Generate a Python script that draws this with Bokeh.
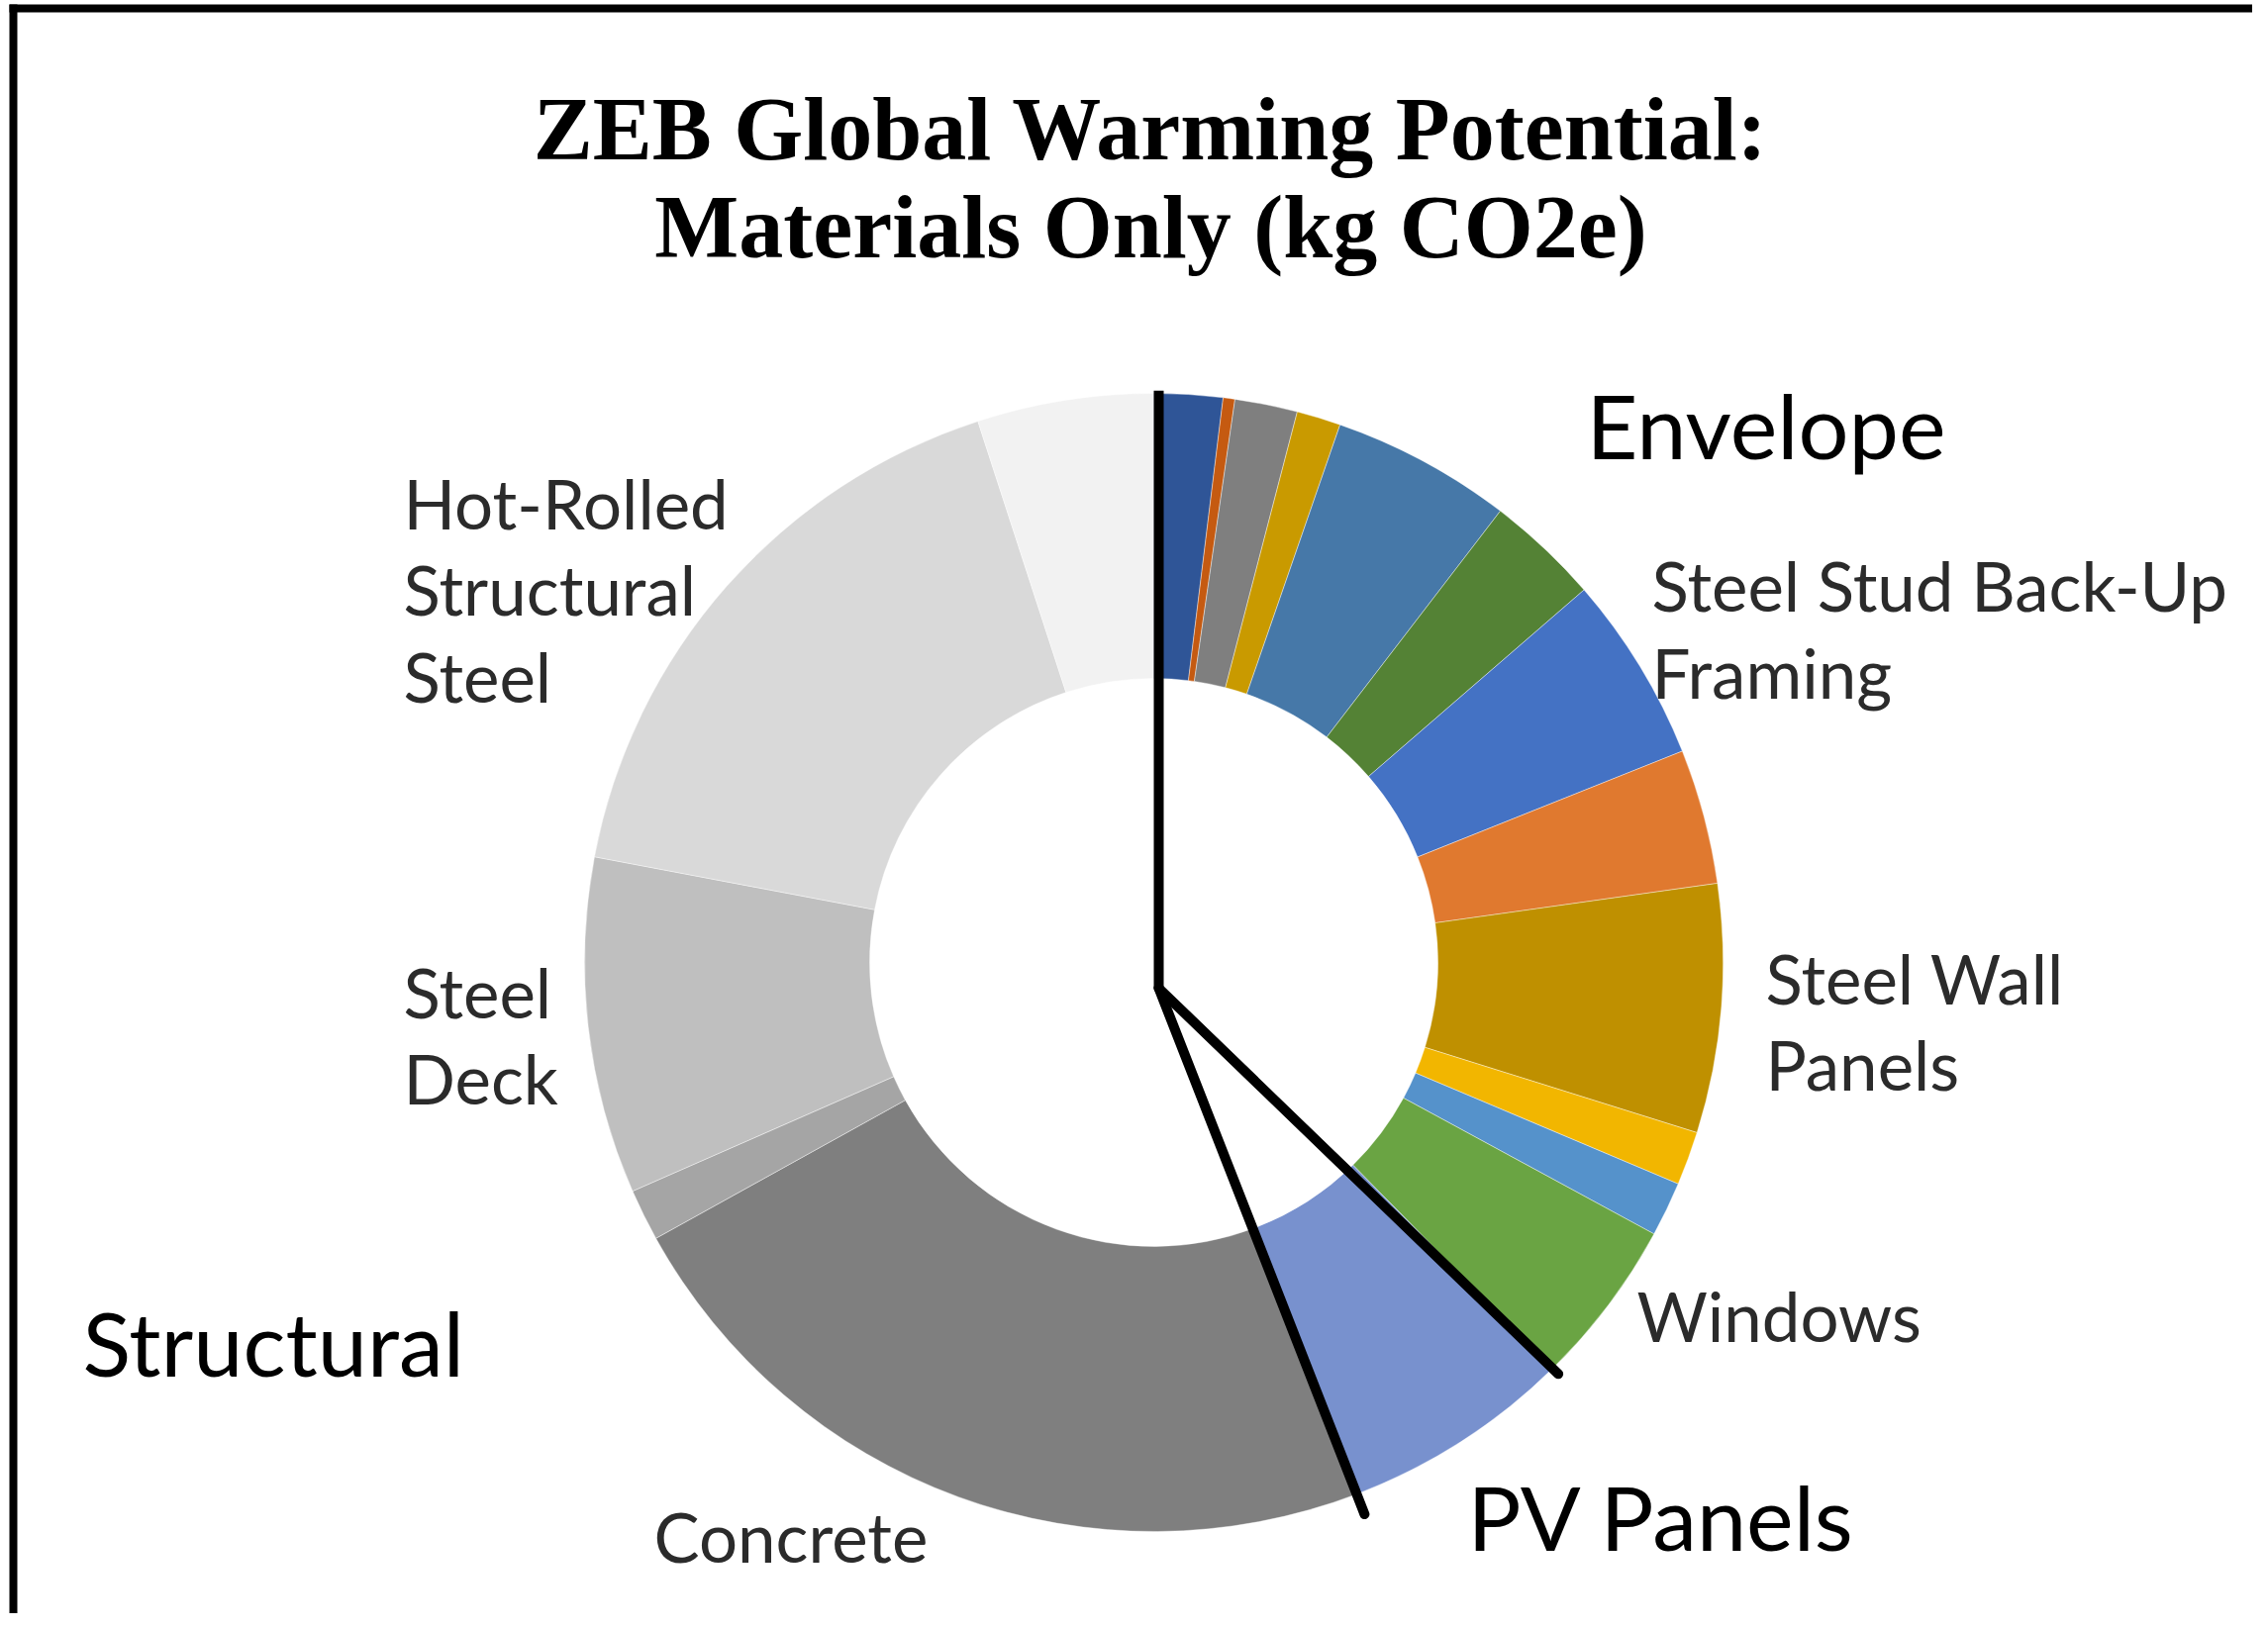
import numpy as np
from bokeh.plotting import figure
from bokeh.models import Range1d, ColumnDataSource
from bokeh.core.properties import value
from bokeh.embed import file_html
from bokeh.resources import INLINE

# ---------------- data (relative shares) ----------------
materials = [
    "Envelope material 1", "Envelope material 2", "Envelope material 3",
    "Envelope material 4", "Envelope material 5", "Envelope material 6",
    "Steel Stud Back-Up Framing", "Envelope material 7", "Steel Wall Panels",
    "Envelope material 8", "Envelope material 9", "Windows",
    "PV Panels",
    "Concrete", "Structural material 1", "Steel Deck",
    "Hot-Rolled Structural Steel", "Structural material 2",
]
kg_co2e = [7.0, 1.2, 6.4, 4.5, 18.4, 11.6,
           19.1, 13.8, 25.4, 5.5, 5.6, 17.0,
           23.6,
           81.9, 5.3, 34.4, 61.3, 18.0]
slice_colors = ["#2F5597", "#C55A11", "#7F7F7F", "#C99A00", "#4678A8", "#548235",
                "#4472C4", "#E0792F", "#BF9000", "#F2B600", "#5592CB", "#6AA443",
                "#7891CE",
                "#7F7F7F", "#A5A5A5", "#BFBFBF", "#D9D9D9", "#F2F2F2"]

title_lines = ["ZEB Global Warming Potential:", "Materials Only (kg CO2e)"]

small_labels = ["Steel Stud Back-Up", "Framing", "Steel Wall", "Panels", "Windows",
                "Concrete", "Hot-Rolled", "Structural", "Steel", "Steel", "Deck"]
group_labels = ["Envelope", "PV Panels", "Structural"]

# ---------------- layout (pixels, origin at donut centre) ----------------
small_x = [503, 503, 618, 618, 488, -505, -758, -758, -758, -758, -758]
small_y = [381, 293, -16, -103, -357, -580, 464, 377, 289, -30, -117]
group_x = [437, 317, -1082]
group_y = [544, -559, -383]
title_x = [-3, -3]
title_y = [842, 743]

W, H = 2275, 1630
CX, CY = 1165, 972          # donut centre in page pixels
R_OUT, R_IN = 575, 287

vals = np.array(kg_co2e, dtype=float)
frac = vals / vals.sum()
cum_end = np.cumsum(frac)
cum_start = cum_end - frac
start_angle = np.pi / 2 - cum_start * 2 * np.pi
end_angle = np.pi / 2 - cum_end * 2 * np.pi

src = ColumnDataSource(dict(material=materials, value=vals, color=slice_colors,
                            start=start_angle, end=end_angle))

p = figure(width=W, height=H, output_backend="svg", toolbar_location=None,
           x_range=Range1d(-CX, W - CX), y_range=Range1d(CY - H, CY),
           min_border=0)
p.axis.visible = False
p.grid.visible = False
p.outline_line_color = None
p.background_fill_color = "white"
p.border_fill_color = "white"

p.annular_wedge(x=0, y=0, inner_radius=R_IN, outer_radius=R_OUT,
                start_angle="start", end_angle="end", direction="clock",
                fill_color="color", line_color="white", line_width=0.8,
                line_alpha=0.5, source=src)

# group divider lines (from the group boundaries)
i_win = materials.index("Windows")
i_pv = materials.index("PV Panels")
vx, vy = 5, -26
b_top = 0.0
b_env = cum_end[i_win]
b_pv = cum_end[i_pv]
def pt(frac_angle, length):
    a = np.pi / 2 - frac_angle * 2 * np.pi
    return length * np.cos(a), length * np.sin(a)
x_top, y_top = pt(b_top, 1.005 * R_OUT)
x2, y2 = pt(b_env, 1.014 * R_OUT)
x3, y3 = pt(b_pv, 1.038 * R_OUT)
p.line([vx, vx], [y_top, vy], line_color="black", line_width=10)
p.line([vx, x2], [vy, y2], line_color="black", line_width=10, line_cap="round")
p.line([vx, x3], [vy, y3], line_color="black", line_width=10, line_cap="round")

# frame (top and left edges of the original box)
p.quad(left=[9 - CX], right=[W - CX + 10], top=[CY - 4], bottom=[CY - 12],
       fill_color="black", line_color=None)
p.quad(left=[9 - CX], right=[17 - CX], top=[CY - 4], bottom=[CY - H - 10],
       fill_color="black", line_color=None)

# texts
p.text(x=title_x, y=title_y, text=title_lines, text_align="center",
       text_baseline="alphabetic", text_font=value("Liberation Serif"),
       text_font_style="bold", text_font_size=value("90px"), text_color="black")
p.text(x=small_x, y=small_y, text=small_labels, text_align="left",
       text_baseline="alphabetic", text_font=value("Lato"),
       text_font_size=value("69px"), text_color="#2B2B2B")
p.text(x=group_x, y=group_y, text=group_labels, text_align="left",
       text_baseline="alphabetic", text_font=value("Lato"),
       text_font_size=value("90px"), text_color="black")

open("out.html", "w").write(file_html(p, INLINE))
